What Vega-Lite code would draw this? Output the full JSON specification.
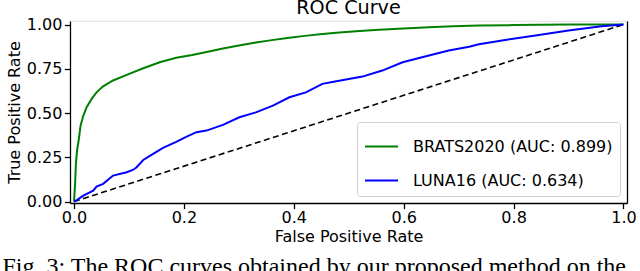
{
  "$schema": "https://vega.github.io/schema/vega-lite/v6.json",
  "width": 557,
  "height": 182,
  "autosize": {"type": "none"},
  "padding": {"left": 70, "top": 21, "right": 13, "bottom": 68},
  "background": "white",
  "title": {"text": "ROC Curve", "font": "DejaVu Sans", "fontSize": 19.2, "fontWeight": "normal", "color": "black", "anchor": "middle", "frame": "group", "baseline": "alphabetic", "offset": -17},
  "config": {
    "view": {"stroke": "#e6e6e6", "strokeWidth": 1.2},
    "axis": {"labelFont": "DejaVu Sans", "labelFontSize": 16, "labelColor": "black", "titleFont": "DejaVu Sans", "titleFontSize": 16, "titleFontWeight": "normal", "titleColor": "black", "domainColor": "black", "domainWidth": 1.28, "tickColor": "black", "tickWidth": 1.28, "tickSize": 5.6, "grid": false},
    "legend": {"orient": "bottom-right", "offset": 7, "symbolType": "stroke", "symbolSize": 1089, "symbolStrokeWidth": 2, "labelFont": "DejaVu Sans", "labelFontSize": 16, "labelColor": "black", "labelOffset": 14, "labelLimit": 0, "padding": 7, "rowPadding": 8, "strokeColor": "#d0d0d0", "fillColor": "rgba(255,255,255,0.8)", "cornerRadius": 3}
  },
  "datasets": {
    "curves": [
      {"series": "BRATS2020 (AUC: 0.899)", "fpr": 0, "tpr": 0},
      {"series": "BRATS2020 (AUC: 0.899)", "fpr": 0.002, "tpr": 0.1},
      {"series": "BRATS2020 (AUC: 0.899)", "fpr": 0.0036, "tpr": 0.222},
      {"series": "BRATS2020 (AUC: 0.899)", "fpr": 0.006, "tpr": 0.3},
      {"series": "BRATS2020 (AUC: 0.899)", "fpr": 0.008, "tpr": 0.335},
      {"series": "BRATS2020 (AUC: 0.899)", "fpr": 0.012, "tpr": 0.43},
      {"series": "BRATS2020 (AUC: 0.899)", "fpr": 0.017, "tpr": 0.486},
      {"series": "BRATS2020 (AUC: 0.899)", "fpr": 0.023, "tpr": 0.533},
      {"series": "BRATS2020 (AUC: 0.899)", "fpr": 0.032, "tpr": 0.58},
      {"series": "BRATS2020 (AUC: 0.899)", "fpr": 0.041, "tpr": 0.617},
      {"series": "BRATS2020 (AUC: 0.899)", "fpr": 0.053, "tpr": 0.651},
      {"series": "BRATS2020 (AUC: 0.899)", "fpr": 0.071, "tpr": 0.684},
      {"series": "BRATS2020 (AUC: 0.899)", "fpr": 0.096, "tpr": 0.716},
      {"series": "BRATS2020 (AUC: 0.899)", "fpr": 0.126, "tpr": 0.753},
      {"series": "BRATS2020 (AUC: 0.899)", "fpr": 0.156, "tpr": 0.787},
      {"series": "BRATS2020 (AUC: 0.899)", "fpr": 0.186, "tpr": 0.812},
      {"series": "BRATS2020 (AUC: 0.899)", "fpr": 0.215, "tpr": 0.828},
      {"series": "BRATS2020 (AUC: 0.899)", "fpr": 0.25, "tpr": 0.85},
      {"series": "BRATS2020 (AUC: 0.899)", "fpr": 0.271, "tpr": 0.865},
      {"series": "BRATS2020 (AUC: 0.899)", "fpr": 0.3, "tpr": 0.882},
      {"series": "BRATS2020 (AUC: 0.899)", "fpr": 0.331, "tpr": 0.898},
      {"series": "BRATS2020 (AUC: 0.899)", "fpr": 0.36, "tpr": 0.912},
      {"series": "BRATS2020 (AUC: 0.899)", "fpr": 0.392, "tpr": 0.926},
      {"series": "BRATS2020 (AUC: 0.899)", "fpr": 0.42, "tpr": 0.936},
      {"series": "BRATS2020 (AUC: 0.899)", "fpr": 0.452, "tpr": 0.946},
      {"series": "BRATS2020 (AUC: 0.899)", "fpr": 0.483, "tpr": 0.955},
      {"series": "BRATS2020 (AUC: 0.899)", "fpr": 0.52, "tpr": 0.963},
      {"series": "BRATS2020 (AUC: 0.899)", "fpr": 0.555, "tpr": 0.971},
      {"series": "BRATS2020 (AUC: 0.899)", "fpr": 0.6, "tpr": 0.978},
      {"series": "BRATS2020 (AUC: 0.899)", "fpr": 0.646, "tpr": 0.984},
      {"series": "BRATS2020 (AUC: 0.899)", "fpr": 0.69, "tpr": 0.99},
      {"series": "BRATS2020 (AUC: 0.899)", "fpr": 0.737, "tpr": 0.994},
      {"series": "BRATS2020 (AUC: 0.899)", "fpr": 0.8, "tpr": 0.997},
      {"series": "BRATS2020 (AUC: 0.899)", "fpr": 0.85, "tpr": 0.999},
      {"series": "BRATS2020 (AUC: 0.899)", "fpr": 0.9, "tpr": 1.0},
      {"series": "BRATS2020 (AUC: 0.899)", "fpr": 1.0, "tpr": 1.0},
      {"series": "LUNA16 (AUC: 0.634)", "fpr": 0, "tpr": 0},
      {"series": "LUNA16 (AUC: 0.634)", "fpr": 0.005, "tpr": 0.008},
      {"series": "LUNA16 (AUC: 0.634)", "fpr": 0.017, "tpr": 0.034},
      {"series": "LUNA16 (AUC: 0.634)", "fpr": 0.035, "tpr": 0.062},
      {"series": "LUNA16 (AUC: 0.634)", "fpr": 0.041, "tpr": 0.085},
      {"series": "LUNA16 (AUC: 0.634)", "fpr": 0.053, "tpr": 0.1},
      {"series": "LUNA16 (AUC: 0.634)", "fpr": 0.071, "tpr": 0.147},
      {"series": "LUNA16 (AUC: 0.634)", "fpr": 0.096, "tpr": 0.166},
      {"series": "LUNA16 (AUC: 0.634)", "fpr": 0.108, "tpr": 0.18},
      {"series": "LUNA16 (AUC: 0.634)", "fpr": 0.114, "tpr": 0.194},
      {"series": "LUNA16 (AUC: 0.634)", "fpr": 0.126, "tpr": 0.235},
      {"series": "LUNA16 (AUC: 0.634)", "fpr": 0.144, "tpr": 0.269},
      {"series": "LUNA16 (AUC: 0.634)", "fpr": 0.162, "tpr": 0.303},
      {"series": "LUNA16 (AUC: 0.634)", "fpr": 0.186, "tpr": 0.337},
      {"series": "LUNA16 (AUC: 0.634)", "fpr": 0.205, "tpr": 0.367},
      {"series": "LUNA16 (AUC: 0.634)", "fpr": 0.223, "tpr": 0.392},
      {"series": "LUNA16 (AUC: 0.634)", "fpr": 0.241, "tpr": 0.401},
      {"series": "LUNA16 (AUC: 0.634)", "fpr": 0.271, "tpr": 0.433},
      {"series": "LUNA16 (AUC: 0.634)", "fpr": 0.301, "tpr": 0.476},
      {"series": "LUNA16 (AUC: 0.634)", "fpr": 0.331, "tpr": 0.504},
      {"series": "LUNA16 (AUC: 0.634)", "fpr": 0.362, "tpr": 0.542},
      {"series": "LUNA16 (AUC: 0.634)", "fpr": 0.392, "tpr": 0.589},
      {"series": "LUNA16 (AUC: 0.634)", "fpr": 0.422, "tpr": 0.617},
      {"series": "LUNA16 (AUC: 0.634)", "fpr": 0.452, "tpr": 0.665},
      {"series": "LUNA16 (AUC: 0.634)", "fpr": 0.475, "tpr": 0.678},
      {"series": "LUNA16 (AUC: 0.634)", "fpr": 0.525, "tpr": 0.706},
      {"series": "LUNA16 (AUC: 0.634)", "fpr": 0.561, "tpr": 0.74},
      {"series": "LUNA16 (AUC: 0.634)", "fpr": 0.598, "tpr": 0.787},
      {"series": "LUNA16 (AUC: 0.634)", "fpr": 0.646, "tpr": 0.825},
      {"series": "LUNA16 (AUC: 0.634)", "fpr": 0.682, "tpr": 0.853},
      {"series": "LUNA16 (AUC: 0.634)", "fpr": 0.719, "tpr": 0.875},
      {"series": "LUNA16 (AUC: 0.634)", "fpr": 0.737, "tpr": 0.889},
      {"series": "LUNA16 (AUC: 0.634)", "fpr": 0.779, "tpr": 0.91},
      {"series": "LUNA16 (AUC: 0.634)", "fpr": 0.84, "tpr": 0.938},
      {"series": "LUNA16 (AUC: 0.634)", "fpr": 0.9, "tpr": 0.966},
      {"series": "LUNA16 (AUC: 0.634)", "fpr": 0.96, "tpr": 0.99},
      {"series": "LUNA16 (AUC: 0.634)", "fpr": 1.0, "tpr": 1.0}
    ],
    "diagonal": [
      {"fpr": 0, "tpr": 0},
      {"fpr": 1, "tpr": 1}
    ]
  },
  "layer": [
    {
      "data": {"name": "diagonal"},
      "mark": {"type": "line", "color": "black", "strokeWidth": 1.6, "strokeDash": [6, 3.5]},
      "encoding": {
        "x": {"field": "fpr", "type": "quantitative", "scale": {"domain": [-0.0073, 1.0064], "nice": false, "zero": false},
              "axis": {"orient": "bottom", "labels": false, "ticks": false, "domain": false, "title": "Fig. 3: The ROC curves obtained by our proposed method on the", "titleFont": "Liberation Serif", "titleFontSize": 24, "titleFontWeight": "normal", "titleColor": "black", "titleAlign": "left", "titleAnchor": "start", "titleBaseline": "alphabetic", "titleX": -68, "titleY": 70}},
        "y": {"field": "tpr", "type": "quantitative", "scale": {"domain": [-0.008, 1.02], "nice": false, "zero": false},
              "axis": {"orient": "right", "labels": false, "ticks": false, "title": null, "domain": true}}
      }
    },
    {
      "data": {"name": "curves"},
      "mark": {"type": "line", "strokeWidth": 2},
      "encoding": {
        "x": {"field": "fpr", "type": "quantitative",
              "axis": {"orient": "bottom", "values": [0, 0.2, 0.4, 0.6, 0.8, 1.0], "format": ".1f", "labelPadding": 1, "title": "False Positive Rate", "titlePadding": 3}},
        "y": {"field": "tpr", "type": "quantitative",
              "axis": {"orient": "left", "values": [0, 0.25, 0.5, 0.75, 1.0], "format": ".2f", "labelPadding": 2.5, "title": "True Positive Rate", "titlePadding": 4}},
        "color": {"field": "series", "type": "nominal",
                  "scale": {"domain": ["BRATS2020 (AUC: 0.899)", "LUNA16 (AUC: 0.634)"], "range": ["#008000", "#0000ff"]},
                  "legend": {"title": null}}
      }
    }
  ],
  "resolve": {"axis": {"x": "independent", "y": "independent"}}
}
